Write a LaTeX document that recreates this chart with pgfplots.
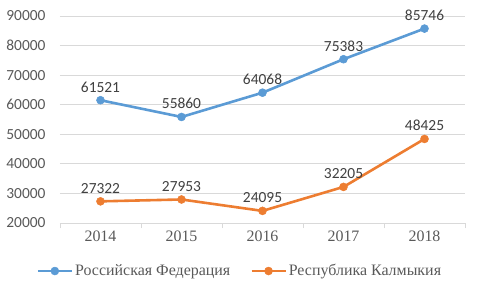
\documentclass[border=0pt]{standalone}
\usepackage{fontspec}
\setmainfont{Liberation Serif}
\newfontfamily\carlito{Carlito}
\usepackage{pgfplots}
\pgfplotsset{compat=1.18}
\definecolor{rfblue}{HTML}{5B9BD5}
\definecolor{kalorange}{HTML}{ED7D31}
\definecolor{gridgray}{HTML}{D9D9D9}
\definecolor{txtgray}{HTML}{595959}
\definecolor{lblgray}{HTML}{404040}
\newcommand{\fs}{\fontsize{15.5}{18}\selectfont}
\newcommand{\fr}{\fontsize{16}{19}\selectfont}
\begin{document}
\begin{tikzpicture}
\useasboundingbox (-60bp,-65bp) rectangle (420bp,223bp);
\begin{axis}[
  at={(0,0)}, anchor=south west,
  scale only axis, width=405bp, height=207bp,
  xmin=-0.5, xmax=4.5, ymin=20000, ymax=90000,
  xtick={-0.5,0.5,1.5,2.5,3.5,4.5}, xticklabels={},
  extra x ticks={0,1,2,3,4},
  extra x tick labels={2014,2015,2016,2017,2018},
  extra x tick style={major tick length=0pt, grid=none},
  xtick style={draw=gridgray, line width=0.75bp},
  tick align=outside,
  major tick length=5bp,
  ytick={20000,30000,...,90000},
  scaled y ticks=false,
  /pgf/number format/1000 sep={},
  /pgf/number format/assume math mode=true,
  ymajorgrids, grid style={gridgray, line width=0.75bp},
  axis x line*=bottom,
  x axis line style={draw=gridgray, line width=0.75bp, -},
  axis y line*=left,
  y axis line style={draw=none},
  ytick style={draw=none},
  yticklabel style={font=\carlito\fs, text=txtgray, xshift=-6bp},
  xticklabel style={font=\rmfamily\fr, text=txtgray, yshift=-4bp},
  clip=false,
  nodes near coords,
  nodes near coords style={font=\carlito\fs, text=lblgray, anchor=base, yshift=8bp},
  legend style={at={(0.444,-0.232)}, anchor=center, draw=none, fill=none,
    font=\rmfamily\fr, text=txtgray, legend columns=2,
    /tikz/every even column/.append style={column sep=18bp}},
  legend image code/.code={\draw[mark repeat=2, mark phase=2] plot coordinates {(0bp,0bp) (17bp,0bp) (34bp,0bp)};},
]
\addplot[rfblue, line width=2.6bp, mark=*, mark size=4bp, mark options={fill=rfblue, draw=rfblue, line width=0.5bp}]
  coordinates {(0,61521) (1,55860) (2,64068) (3,75383) (4,85746)};
\addlegendentry{Российская Федерация}
\addplot[kalorange, line width=2.6bp, mark=*, mark size=4bp, mark options={fill=kalorange, draw=kalorange, line width=0.5bp}]
  coordinates {(0,27322) (1,27953) (2,24095) (3,32205) (4,48425)};
\addlegendentry{Республика Калмыкия}
\end{axis}
\end{tikzpicture}
\end{document}
